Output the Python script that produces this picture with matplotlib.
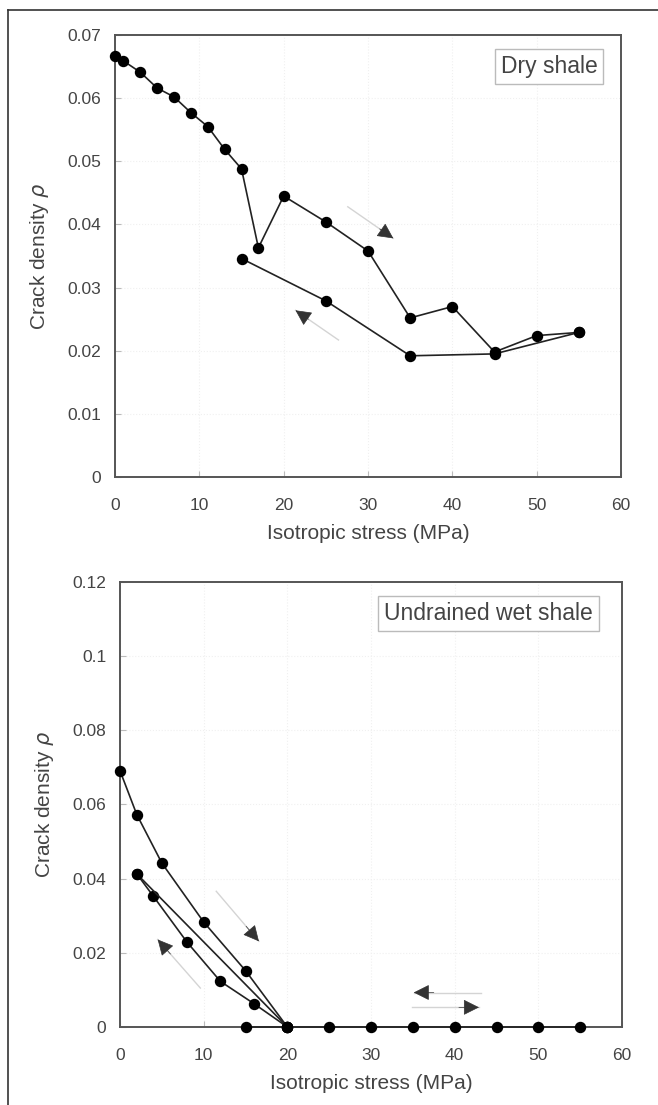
import numpy as np
import matplotlib
matplotlib.use('Agg')
import matplotlib.pyplot as plt
from matplotlib.lines import Line2D

plt.rcParams['font.family'] = ['Liberation Sans', 'DejaVu Sans']

# dry shale: loading then unloading
dry_load_x = [0, 1, 3, 5, 7, 9, 11, 13, 15, 17, 20, 25, 30, 35, 40, 45, 50, 55]
dry_load_y = [0.0666, 0.0659, 0.0641, 0.0616, 0.0602, 0.0577, 0.0555, 0.0519, 0.0488,
              0.0363, 0.0445, 0.0404, 0.0358, 0.0252, 0.0270, 0.0198, 0.0224, 0.0229]
dry_unload_x = [55, 45, 35, 25, 15]
dry_unload_y = [0.0229, 0.0195, 0.0192, 0.0279, 0.0346]

# undrained wet shale
wet_load_x = [0, 2, 5, 10, 15, 20]
wet_load_y = [0.0691, 0.0573, 0.0442, 0.0283, 0.0152, 0.0]
wet_unload_x = [20, 16, 12, 8, 4, 2]
wet_unload_y = [0.0, 0.0063, 0.0123, 0.0229, 0.0352, 0.0413]
wet_reload_x = [2, 20]
wet_reload_y = [0.0413, 0.0]
wet_zero_x = [15, 20, 25, 30, 35, 40, 45, 50, 55]
wet_zero_y = [0, 0, 0, 0, 0, 0, 0, 0, 0]

# direction arrows (tail, head) in data coords
dry_arrows = [((27.6, 0.0428), (33.0, 0.0378)), ((26.5, 0.0217), (21.4, 0.0264))]
wet_arrows = [((11.5, 0.0366), (16.6, 0.0231)), ((9.6, 0.0105), (4.5, 0.0236)),
              ((43.1, 0.0093), (35.1, 0.0093)), ((34.9, 0.0053), (42.9, 0.0053))]

TXT = '#444444'
SPINE = '#555555'
LINE = '#222222'


def style_axes(ax, ymax, ystep):
    ax.set_xlim(0, 60)
    ax.set_ylim(0, ymax)
    ax.set_xticks(np.arange(0, 61, 10))
    ax.set_yticks(np.arange(0, ymax + ystep / 2, ystep))
    ax.yaxis.set_major_formatter(plt.FuncFormatter(lambda v, p: '{:g}'.format(round(v, 3))))
    ax.tick_params(direction='in', length=4, color='#bbbbbb', labelcolor=TXT,
                   labelsize=12.5)
    ax.tick_params(axis='x', pad=15)
    ax.tick_params(axis='y', pad=10)
    for s in ax.spines.values():
        s.set_color(SPINE)
        s.set_linewidth(1.4)
    ax.grid(color='#f0f0f0', ls=':', lw=0.8)
    ax.set_axisbelow(True)
    ax.set_xlabel('Isotropic stress (MPa)', fontsize=15, color=TXT, labelpad=8)
    ax.set_ylabel(r'Crack density $\rho$', fontsize=15, color=TXT, labelpad=12)


def draw_arrows(ax, arrows):
    for (tx, ty), (hx, hy) in arrows:
        ax.plot([tx, hx], [ty, hy], color='#d4d4d4', lw=1.0, zorder=2)
        ax.annotate('', xy=(hx, hy), xytext=(tx + 0.7 * (hx - tx), ty + 0.7 * (hy - ty)),
                    arrowprops=dict(arrowstyle='-|>,head_length=1.0,head_width=0.5',
                                    color='#333333', lw=0.5, shrinkA=0, shrinkB=0), zorder=3)


fig = plt.figure(figsize=(6.58, 11.05), dpi=100)
fig.patch.set_facecolor('white')

mk = dict(color=LINE, lw=1.2, marker='o', markersize=7.2, markerfacecolor='black',
          markeredgecolor='black', zorder=4, clip_on=False)

ax1 = fig.add_axes([0.1748, 0.5683, 0.769, 0.400])
ax1.plot(dry_load_x, dry_load_y, **mk)
ax1.plot(dry_unload_x, dry_unload_y, **mk)
draw_arrows(ax1, dry_arrows)
style_axes(ax1, 0.07, 0.01)
ax1.text(0.858, 0.929, 'Dry shale', transform=ax1.transAxes, ha='center', va='center',
         fontsize=16.5, color=TXT,
         bbox=dict(boxstyle='square,pad=0.25', fc='white', ec='#bbbbbb', lw=1))

ax2 = fig.add_axes([0.1824, 0.0706, 0.763, 0.4027])
ax2.plot(wet_load_x, wet_load_y, **mk)
ax2.plot(wet_unload_x, wet_unload_y, **mk)
ax2.plot(wet_reload_x, wet_reload_y, **mk)
ax2.plot(wet_zero_x, wet_zero_y, **mk)
draw_arrows(ax2, wet_arrows)
style_axes(ax2, 0.12, 0.02)
ax2.text(0.942, 0.929, 'Undrained wet shale', transform=ax2.transAxes, ha='right', va='center',
         fontsize=16.5, color=TXT,
         bbox=dict(boxstyle='square,pad=0.25', fc='white', ec='#bbbbbb', lw=1))

# outer frame (top and left edges only visible)
fig.add_artist(Line2D([8 / 658, 1], [1 - 10 / 1105] * 2, transform=fig.transFigure,
                      color='#333333', lw=1.2))
fig.add_artist(Line2D([8 / 658] * 2, [0, 1 - 10 / 1105], transform=fig.transFigure,
                      color='#333333', lw=1.2))

fig.savefig('out.png', dpi=100)
